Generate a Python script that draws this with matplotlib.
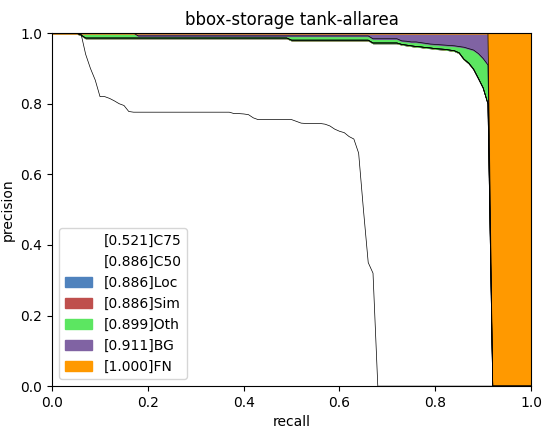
import numpy as np
from matplotlib import pyplot as plt

# recall grid (0.00 .. 1.00, step 0.01)
rs = np.linspace(0.0, 1.0, 101)

types = ['C75', 'C50', 'Loc', 'Sim', 'Oth', 'BG', 'FN']
aps = [0.521, 0.886, 0.886, 0.886, 0.899, 0.911, 1.000]

# precision curves, one value per recall step
c75 = [1.0] * 7 + [
    0.94, 0.90, 0.867, 0.82, 0.82, 0.815, 0.808, 0.80, 0.795, 0.778,
] + [0.776] * 20 + [
    0.776, 0.772, 0.772, 0.771, 0.769, 0.760,
] + [0.755] * 8 + [0.750, 0.745] + [0.744] * 4 + [
    0.742, 0.737, 0.728, 0.722, 0.718, 0.707, 0.700,
    0.66, 0.50, 0.35, 0.32,
] + [0.0] * 33

c50 = [1.0] * 6 + [0.995] + [0.986] * 43 + [0.980] * 17 + [0.972] * 6 + [
    0.968, 0.966, 0.964, 0.962, 0.961, 0.959, 0.958, 0.956, 0.955, 0.954,
    0.952, 0.950, 0.944, 0.926, 0.915, 0.898, 0.872, 0.845, 0.80,
] + [0.0] * 9

loc = list(c50)
sim = list(c50)

oth = [1.0] * 18 + [0.992] * 49 + [0.984] * 6 + [
    0.978, 0.977, 0.975, 0.975, 0.973, 0.971, 0.969, 0.968, 0.967, 0.966,
    0.965, 0.964, 0.962, 0.960, 0.956, 0.952, 0.942, 0.928, 0.91,
] + [0.0] * 9

bg = [1.0] * 92 + [0.0] * 9
fn = [1.0] * 101

cs = np.vstack([
    np.ones((2, 3)),
    np.array([0.31, 0.51, 0.74]),
    np.array([0.75, 0.31, 0.30]),
    np.array([0.36, 0.90, 0.38]),
    np.array([0.50, 0.39, 0.64]),
    np.array([1, 0.6, 0]),
])

ps_curve = [np.array(p) for p in (c75, c50, loc, sim, oth, bg, fn)]
ps_curve.insert(0, np.zeros(101))

fig = plt.figure(figsize=(5.43, 4.30), dpi=100)
ax = plt.subplot(111)
fig.subplots_adjust(left=0.096, right=0.978, top=0.923, bottom=0.102)
for k in range(len(types)):
    ax.plot(rs, ps_curve[k + 1], color=[0, 0, 0], linewidth=0.5)
    ax.fill_between(rs, ps_curve[k], ps_curve[k + 1], color=cs[k],
                    label=f'[{aps[k]:.3f}]' + types[k])
plt.xlabel('recall')
plt.ylabel('precision')
plt.xlim(0, 1.0)
plt.ylim(0, 1.0)
plt.title('bbox-storage tank-allarea')
plt.legend(loc='lower left')
fig.savefig('out.png', dpi=100)
